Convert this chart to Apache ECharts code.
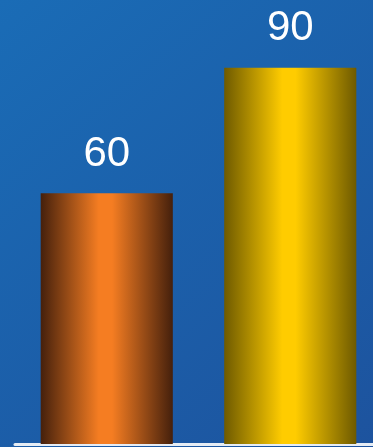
<!DOCTYPE html>
<html>
<head>
<meta charset="utf-8">
<script src="https://cdn.jsdelivr.net/npm/echarts@6/dist/echarts.min.js"></script>
<style>
  html, body { margin: 0; padding: 0; }
  #chart { width: 373px; height: 447px; }
</style>
</head>
<body>
<div id="chart"></div>
<script>
// data
var categories = ['A', 'B'];
var values = [60, 90];

// 柱子的横向渐变（圆柱效果）
function barGradient(edge, mid) {
  return new echarts.graphic.LinearGradient(0, 0, 1, 0, [
    { offset: 0, color: edge },
    { offset: 0.44, color: mid },
    { offset: 0.54, color: mid },
    { offset: 1, color: edge }
  ]);
}
var barColors = [
  barGradient('#45200c', '#f57d22'),
  barGradient('#6e5a00', '#ffcc00')
];

var chartObj = echarts.init(document.getElementById('chart'));

var option = {
  backgroundColor: new echarts.graphic.LinearGradient(0, 0, 1, 1, [
    { offset: 0, color: '#1a6cb6' },
    { offset: 1, color: '#1d539e' }
  ]),
  // 右侧略超出画布
  grid: { left: 15, right: -9, top: 26, bottom: 3, outerBoundsMode: 'none', containLabel: false },
  xAxis: {
    type: 'category',
    data: categories,
    axisLine: { lineStyle: { color: '#e6edf5', width: 3 } },
    axisTick: { show: false },
    axisLabel: { show: false }
  },
  yAxis: {
    type: 'value',
    min: 0,
    max: 100,
    show: false,
    splitLine: { show: false }
  },
  series: [
    {
      type: 'bar',
      barWidth: '72%',
      data: values.map(function (v, i) {
        return { value: v, itemStyle: { color: barColors[i] } };
      }),
      label: {
        show: true,
        position: 'top',
        distance: 18,
        color: '#ffffff',
        fontSize: 42,
        fontFamily: 'Liberation Sans, Arial, sans-serif'
      }
    }
  ]
};
chartObj.setOption(option);
</script>
</body>
</html>
